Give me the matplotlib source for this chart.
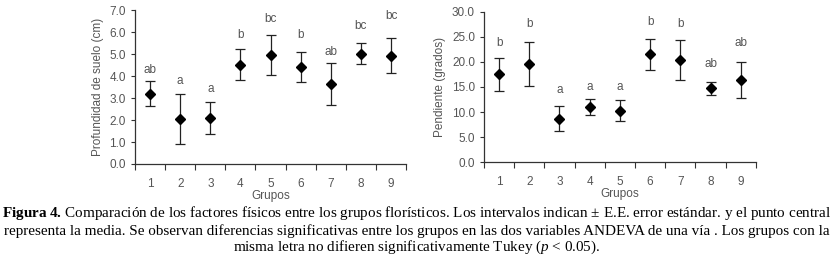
import numpy as np
import matplotlib
matplotlib.use("Agg")
import matplotlib.pyplot as plt

grupos = [1, 2, 3, 4, 5, 6, 7, 8, 9]

# profundidad de suelo (cm)
prof_media = [3.2, 2.05, 2.08, 4.52, 4.95, 4.42, 3.63, 5.01, 4.93]
prof_ee = [0.58, 1.15, 0.73, 0.72, 0.92, 0.67, 0.95, 0.48, 0.80]
prof_letras = ["ab", "a", "a", "b", "bc", "b", "ab", "bc", "bc"]
prof_letras_y = [4.28, 3.78, 3.40, 5.87, 6.58, 5.87, 5.11, 6.29, 6.73]

# pendiente (grados)
pend_media = [17.5, 19.5, 8.7, 11.0, 10.3, 21.5, 20.4, 14.7, 16.4]
pend_ee = [3.3, 4.4, 2.5, 1.5, 2.1, 3.1, 4.0, 1.3, 3.6]
pend_letras = ["b", "b", "a", "a", "a", "b", "b", "ab", "ab"]
pend_letras_y = [23.7, 27.5, 14.4, 14.9, 14.9, 28.0, 27.5, 19.6, 23.7]

caption = [
    r"$\mathbf{Figura\ 4.}\,$Comparación de los factores físicos entre los grupos florísticos. "
    r"Los intervalos indican ± E.E. error estándar. y el punto central",
    "representa la media. Se observan diferencias significativas entre los grupos en las dos "
    "variables ANDEVA de una vía . Los grupos con la",
    r"misma letra no difieren significativamente Tukey ($p$ < 0.05).",
]

gris = "#555555"
plt.rcParams["font.family"] = ["Liberation Sans", "DejaVu Sans"]
plt.rcParams["mathtext.fontset"] = "custom"
plt.rcParams["mathtext.rm"] = "Liberation Serif"
plt.rcParams["mathtext.bf"] = "Liberation Serif:bold"
plt.rcParams["mathtext.it"] = "Liberation Serif:italic"

fig = plt.figure(figsize=(8.34, 2.70), dpi=100)
ax1 = fig.add_axes([0.1619, 0.3926, 0.325, 0.570])
ax2 = fig.add_axes([0.5803, 0.399, 0.326, 0.558])


def panel(ax, media, ee, letras, letras_y, ymax, paso, ylabel):
    ax.errorbar(grupos, media, yerr=ee, fmt="D", color="black", ms=5,
                ecolor="#222222", elinewidth=0.9, capsize=3.5, capthick=0.9)
    for x, l, y in zip(grupos, letras, letras_y):
        ax.text(x, y, l, ha="center", va="center", fontsize=8.5, color=gris)
    ax.set_xlim(0.5, 9.5)
    ax.set_ylim(0, ymax)
    ax.set_yticks(np.arange(0, ymax + paso / 2, paso))
    ax.yaxis.set_major_formatter(matplotlib.ticker.FormatStrFormatter("%.1f"))
    ax.set_xticks(np.arange(0.5, 10, 1))
    ax.set_xticklabels([])
    ax.set_xticks(grupos, minor=True)
    ax.set_xticklabels([str(g) for g in grupos], minor=True)
    ax.tick_params(axis="x", which="minor", length=0, pad=10, labelsize=8.5, labelcolor=gris)
    ax.tick_params(axis="x", which="major", length=4, color="#333333")
    ax.tick_params(axis="y", length=3, labelsize=8.5, labelcolor=gris, color="#333333")
    for s in ["top", "right"]:
        ax.spines[s].set_visible(False)
    for s in ["left", "bottom"]:
        ax.spines[s].set_color("#333333")
        ax.spines[s].set_linewidth(0.9)
    ax.set_xlabel("Grupos", fontsize=8.5, color=gris, labelpad=0)
    ax.set_ylabel(ylabel, fontsize=8.5, color=gris, labelpad=4)


panel(ax1, prof_media, prof_ee, prof_letras, prof_letras_y, 7.0, 1.0, "Profundidad de suelo (cm)")
panel(ax2, pend_media, pend_ee, pend_letras, pend_letras_y, 30.0, 5.0, "Pendiente (grados)")

for linea, y in zip(caption, [213, 231, 247]):
    fig.text(0.5, 1 - y / 270, linea, ha="center", va="center", fontsize=10.9,
             family="Liberation Serif", color="black")

fig.savefig("out.png", dpi=100)
